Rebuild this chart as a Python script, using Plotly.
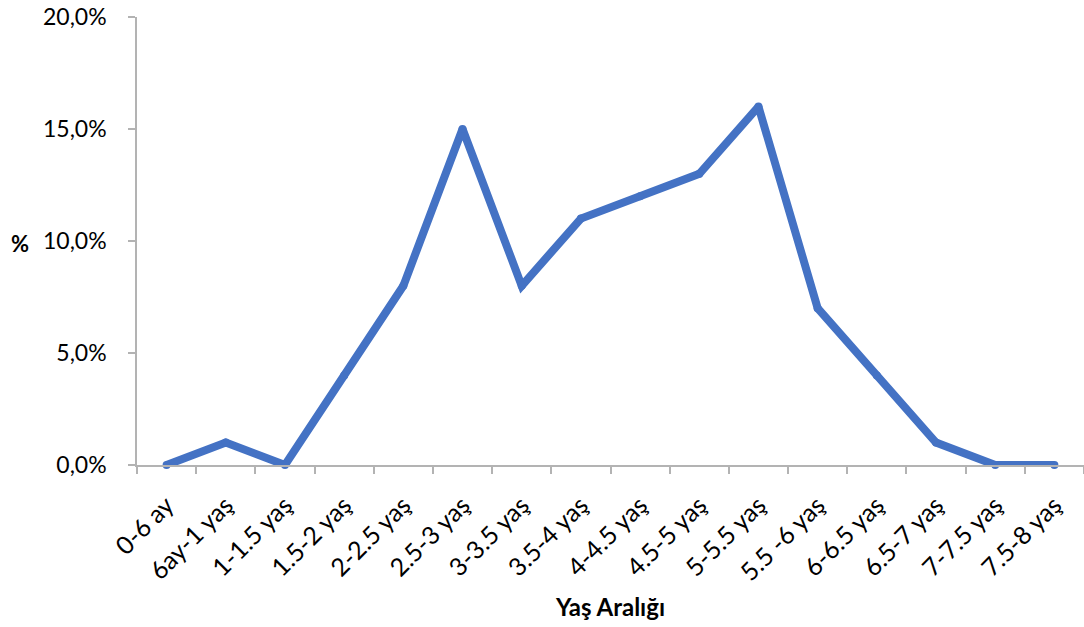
import plotly.graph_objects as go

# Age-range distribution (%)
age_ranges = [
    "0-6 ay", "6ay-1 yaş", "1-1.5 yaş", "1.5-2 yaş", "2-2.5 yaş", "2.5-3 yaş",
    "3-3.5 yaş", "3.5-4 yaş", "4-4.5 yaş", "4.5-5 yaş", "5-5.5 yaş", "5.5 -6 yaş",
    "6-6.5 yaş", "6.5-7 yaş", "7-7.5 yaş", "7.5-8 yaş",
]
percent_values = [0, 1, 0, 4, 8, 15, 8, 11, 12, 13, 16, 7, 4, 1, 0, 0]
y_ticks = [0, 5, 10, 15, 20]
y_tick_labels = ["0,0%", "5,0%", "10,0%", "15,0%", "20,0%"]

FONT = "Lato, 'Open Sans', sans-serif"
AXIS_GREY = "#b3b3b3"
LINE_BLUE = "#4472C4"
LINE_W = 8

fig = go.Figure()
# Thick line; same-size markers give rounded joins at each vertex
fig.add_trace(go.Scatter(
    x=age_ranges,
    y=percent_values,
    mode="lines+markers",
    line=dict(color=LINE_BLUE, width=LINE_W),
    marker=dict(color=LINE_BLUE, size=LINE_W, line=dict(width=0)),
    cliponaxis=False,
    hoverinfo="skip",
))

fig.update_layout(
    width=1084,
    height=627,
    margin=dict(l=137, r=0, t=17, b=162),
    paper_bgcolor="white",
    plot_bgcolor="white",
    showlegend=False,
    font=dict(family=FONT, size=21, color="black"),
    xaxis=dict(
        type="category",
        range=[-0.5, len(age_ranges) - 0.5],
        tickangle=-45,
        tickson="boundaries",
        ticks="outside",
        ticklen=7,
        tickwidth=1.5,
        tickcolor=AXIS_GREY,
        showline=True,
        linecolor=AXIS_GREY,
        linewidth=1.5,
        showgrid=False,
        zeroline=False,
        ticklabelstandoff=14,
        tickfont=dict(family=FONT, size=25, color="black"),
        title=dict(text="<b>Yaş Aralığı</b>", font=dict(family=FONT, size=24), standoff=14),
    ),
    yaxis=dict(
        range=[0, 20],
        tickvals=y_ticks,
        ticktext=y_tick_labels,
        ticks="outside",
        ticklen=7,
        tickwidth=1.5,
        tickcolor=AXIS_GREY,
        showline=True,
        linecolor=AXIS_GREY,
        linewidth=1.5,
        showgrid=False,
        zeroline=False,
        ticklabelstandoff=17,
        tickfont=dict(family=FONT, size=23, color="black"),
    ),
    annotations=[dict(
        text="<b>%</b>",
        xref="paper", yref="paper",
        x=-137 / 947 + 20 / 947, y=(465 - 243) / 448,
        xanchor="center", yanchor="middle",
        showarrow=False,
        font=dict(family=FONT, size=22, color="black"),
    )],
)

fig.write_html("out.html")
